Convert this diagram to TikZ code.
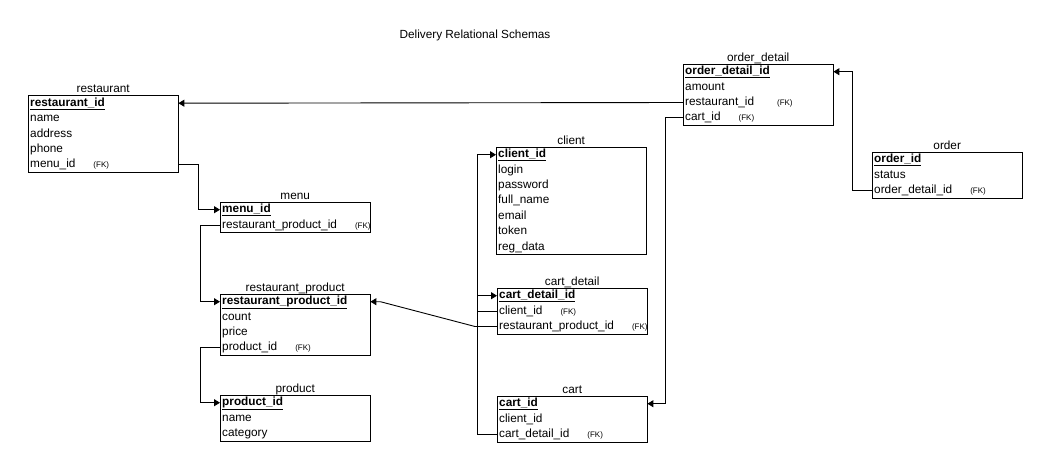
\documentclass[tikz,border=0pt]{standalone}
\usepackage{fontspec}
\setmainfont{Liberation Sans}
\usetikzlibrary{%
  arrows.meta,%
  positioning,% wg. " of "
}
\newcommand{\fk}{\hspace{18pt}\makebox[0pt][l]{\fontsize{8}{9}\selectfont(FK)}}
\newcommand{\pk}[1]{\underline{\textbf{#1}}}

\tikzset{
  fld/.style={text width=146pt, inner xsep=2pt, inner ysep=1.5pt,
    text height=9pt, text depth=3pt, align=left,
    font=\fontsize{11.8}{14}\selectfont},
  tbl/.style={draw, line width=0.9pt},
  ttl/.style={anchor=base, inner sep=0pt, font=\fontsize{11.8}{14}\selectfont},
  fk/.style={draw, line width=0.9pt, -{Triangle[length=6pt,width=7pt]}},
}

\begin{document}
\begin{tikzpicture}[x=1pt,y=-1pt]
        \useasboundingbox (0,0) rectangle (1048,466);
        \node[ttl] at (475,38) {Delivery Relational Schemas};

        % restaurant
        \node[fld,anchor=north west] (rs-id) at (28,95.5) {\pk{restaurant\_id}};
        \node[fld,below=0pt of rs-id] (rs-name) {name};
        \node[fld,below=0pt of rs-name] (rs-addr) {address};
        \node[fld,below=0pt of rs-addr] (rs-phone) {phone};
        \node[fld,below=0pt of rs-phone] (rs-menu) {menu\_id\fk};
        \draw[tbl] (rs-id.north west) rectangle (rs-menu.south east);
        \node[ttl] at ([yshift=3pt]rs-id.north) {restaurant};

        % menu
        \node[fld,anchor=north west] (mn-id) at (220,202) {\pk{menu\_id}};
        \node[fld,below=0pt of mn-id] (mn-rp) {restaurant\_product\_id\fk};
        \draw[tbl] (mn-id.north west) rectangle (mn-rp.south east);
        \node[ttl] at ([yshift=3pt]mn-id.north) {menu};

        % restaurant_product
        \node[fld,anchor=north west] (rp-id) at (220,294) {\pk{restaurant\_product\_id}};
        \node[fld,below=0pt of rp-id] (rp-count) {count};
        \node[fld,below=0pt of rp-count] (rp-price) {price};
        \node[fld,below=0pt of rp-price] (rp-prod) {product\_id\fk};
        \draw[tbl] (rp-id.north west) rectangle (rp-prod.south east);
        \node[ttl] at ([yshift=3pt]rp-id.north) {restaurant\_product};

        % product
        \node[fld,anchor=north west] (pr-id) at (220,395) {\pk{product\_id}};
        \node[fld,below=0pt of pr-id] (pr-name) {name};
        \node[fld,below=0pt of pr-name] (pr-cat) {category};
        \draw[tbl] (pr-id.north west) rectangle (pr-cat.south east);
        \node[ttl] at ([yshift=3pt]pr-id.north) {product};

        % client
        \node[fld,anchor=north west] (cl-id) at (496,147) {\pk{client\_id}};
        \node[fld,below=0pt of cl-id] (cl-login) {login};
        \node[fld,below=0pt of cl-login] (cl-pass) {password};
        \node[fld,below=0pt of cl-pass] (cl-full) {full\_name};
        \node[fld,below=0pt of cl-full] (cl-mail) {email};
        \node[fld,below=0pt of cl-mail] (cl-token) {token};
        \node[fld,below=0pt of cl-token] (cl-reg) {reg\_data};
        \draw[tbl] (cl-id.north west) rectangle (cl-reg.south east);
        \node[ttl] at ([yshift=3pt]cl-id.north) {client};

        % cart_detail
        \node[fld,anchor=north west] (cd-id) at (497,288) {\pk{cart\_detail\_id}};
        \node[fld,below=0pt of cd-id] (cd-client) {client\_id\fk};
        \node[fld,below=0pt of cd-client] (cd-rp) {restaurant\_product\_id\fk};
        \draw[tbl] (cd-id.north west) rectangle (cd-rp.south east);
        \node[ttl] at ([yshift=3pt]cd-id.north) {cart\_detail};

        % cart
        \node[fld,anchor=north west] (ct-id) at (497,396) {\pk{cart\_id}};
        \node[fld,below=0pt of ct-id] (ct-client) {client\_id};
        \node[fld,below=0pt of ct-client] (ct-cd) {cart\_detail\_id\fk};
        \draw[tbl] (ct-id.north west) rectangle (ct-cd.south east);
        \node[ttl] at ([yshift=3pt]ct-id.north) {cart};

        % order_detail
        \node[fld,anchor=north west] (od-id) at (683,64) {\pk{order\_detail\_id}};
        \node[fld,below=0pt of od-id] (od-amount) {amount};
        \node[fld,below=0pt of od-amount] (od-rest) {restaurant\_id\hspace{5pt}\fk};
        \node[fld,below=0pt of od-rest] (od-cart) {cart\_id\fk};
        \draw[tbl] (od-id.north west) rectangle (od-cart.south east);
        \node[ttl] at ([yshift=3pt]od-id.north) {order\_detail};

        % order
        \node[fld,anchor=north west] (or-id) at (872,152) {\pk{order\_id}};
        \node[fld,below=0pt of or-id] (or-status) {status};
        \node[fld,below=0pt of or-status] (or-od) {order\_detail\_id\fk};
        \draw[tbl] (or-id.north west) rectangle (or-od.south east);
        \node[ttl] at ([yshift=3pt]or-id.north) {order};

        % foreign keys
        \draw[fk] (rs-menu.east) -- ++(20,0) |- (mn-id.west);
        \draw[fk] (mn-rp.west) -- ++(-20,0) |- (rp-id.west);
        \draw[fk] (rp-prod.west) -- ++(-20,0) |- (pr-id.west);
        \draw[fk] (cd-rp.west) -- ++(-22,0) -- ([xshift=10pt]rp-id.east) -- (rp-id.east);
        \draw[fk] (cd-client.west) -- ++(-20,0) |- (cl-id.west);
        \draw[fk] (ct-cd.west) -- ++(-20,0) |- (cd-id.west);
        \draw[fk] (od-cart.west) -- ++(-18,0) |- (ct-id.east);
        \draw[fk] (od-rest.west) -- (rs-id.east);
        \draw[fk] (or-od.west) -- ++(-20,0) |- (od-id.east);
    \end{tikzpicture}
\end{document}
